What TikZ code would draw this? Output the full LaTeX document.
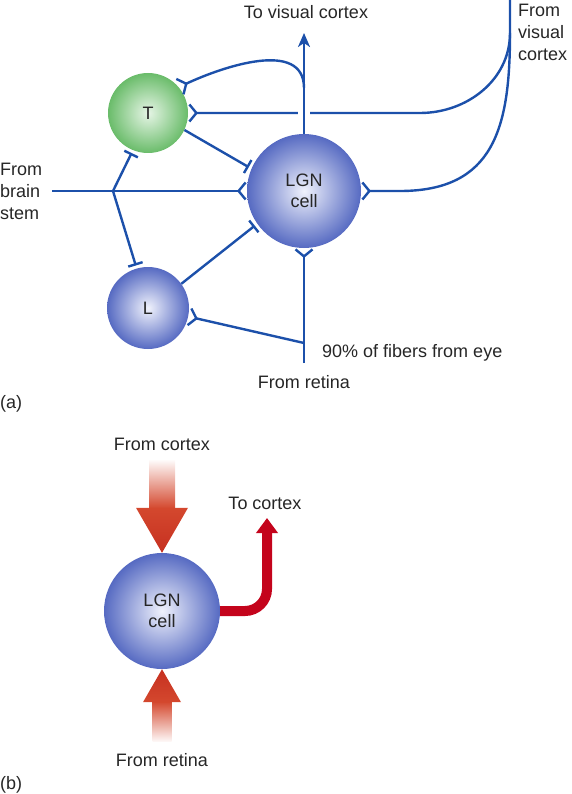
\documentclass[tikz,border=0pt]{standalone}
\usepackage{fontspec}
\setmainfont{Liberation Sans}
\usetikzlibrary{arrows.meta,calc}
\definecolor{nerve}{RGB}{28,80,170}
\definecolor{cellblue}{RGB}{86,106,194}
\definecolor{cellcore}{RGB}{240,242,252}
\definecolor{tgreen}{RGB}{106,188,106}
\definecolor{tcore}{RGB}{230,245,230}
\definecolor{flow}{RGB}{212,72,46}
\definecolor{flowdeep}{RGB}{198,48,32}
\definecolor{pipered}{RGB}{196,4,28}
\definecolor{ink}{RGB}{38,38,38}

\begin{document}
\begin{tikzpicture}[x=1pt,y=-1pt]
    \tikzstyle{cell}=[circle,inner sep=0pt,inner color=cellcore,outer color=cellblue,text=ink,font=\fontsize{18}{21}\selectfont,align=center]
    \tikzstyle{tcell}=[circle,inner sep=0pt,inner color=tcore,outer color=tgreen,text=ink,font=\fontsize{18}{21}\selectfont]
    \tikzstyle{lbl}=[inner sep=0pt,text=ink,font=\fontsize{18}{22}\selectfont]
    \tikzstyle{axon}=[draw=nerve,line width=2.4pt]
    \tikzstyle{excite}=[axon,-{Straight Barb[reversed,length=7pt,width=17pt]}]
    \tikzstyle{inhibit}=[axon,-{Bar[width=15pt]},shorten >=3pt]
    \useasboundingbox (0,0) rectangle (572,794);
    \node (t)[tcell,minimum size=80pt]    at (148,113) {T};
    \node (lgn)[cell,minimum size=114pt]  at (304,191) {LGN\\cell};
    \node (l)[cell,minimum size=82pt]     at (148,308) {L};
    \node (tovis)[lbl]                    at (306,12)  {To visual cortex};
    \node (fromvis)[lbl,align=left,anchor=west] at (518,32) {From\\visual\\cortex};
    \node (stemtxt)[lbl,align=left,anchor=west] at (0,191) {From\\brain\\stem};
    \node (fibers)[lbl,anchor=west]       at (322,353) {90\% of fibers from eye};
    \node (rettxt)[lbl]                   at (304,382) {From retina};
    \node (a)[lbl,anchor=west]            at (0,404) {(a)};
    \coordinate (vc)     at (510,0);
    \coordinate (vcm)    at (510,33);
    \coordinate (vca)    at (420,113);
    \coordinate (vcb)    at (400,191);
    \coordinate (top)    at (304,33);
    \coordinate (coll)   at (304,88);
    \coordinate (stem)   at (52,191);
    \coordinate (branch) at (113,191);
    \coordinate (retina) at (304,363);
    \coordinate (split)  at (304,343);
    \draw[excite] (vc) -- (vcm) to[out=-90,in=0] (vca) -- (t.east);
    \draw[excite] (vcm) to[out=-90,in=0,looseness=1.25] (vcb) -- (lgn.east);
    \draw[white,line width=12pt] (lgn.north) -- (top);
    \draw[axon,-{Stealth[length=14pt,width=12pt,inset=4pt]}] (lgn.north) -- (top);
    \draw[excite] (coll) to[out=90,in=25] (t.40);
    \draw[excite] (stem) -- (lgn.west);
    \draw[inhibit] (branch) -- (t.-112);
    \draw[inhibit] (branch) -- (l.106);
    \draw[inhibit] (t.-25) -- (lgn.157);
    \draw[inhibit] (l.36) -- (lgn.-145);
    \draw[excite] (retina) -- (lgn.south);
    \draw[excite] (split) -- (l.-12);
    \node (lgnb)[cell,minimum size=116pt] at (162,611) {LGN\\cell};
    \node (fromcx)[lbl]                   at (162,444) {From cortex};
    \node (tocx)[lbl]                     at (265,503) {To cortex};
    \node (fromret)[lbl]                  at (162,760) {From retina};
    \node (b)[lbl,anchor=west]            at (0,785) {(b)};
    \coordinate (pipetip) at (267,518);
    \shade[top color=flow!3,bottom color=flow] ($(lgnb.north)+(-13,-44.5)$) rectangle ++(26,-48);
    \shade[top color=flow,bottom color=flowdeep] (lgnb.north) -- ++(26,-45) -- ++(-52,0) -- cycle;
    \shade[top color=flow,bottom color=flow!3] ($(lgnb.south)+(-9.5,32.5)$) rectangle ++(19,40);
    \shade[top color=flowdeep,bottom color=flow] (lgnb.south) -- ++(19,33) -- ++(-38,0) -- cycle;
    \draw[pipered,line width=10pt,rounded corners=22pt,-{Triangle[length=15pt,width=21pt]}] (lgnb.east) -| (pipetip);
\end{tikzpicture}
\end{document}
